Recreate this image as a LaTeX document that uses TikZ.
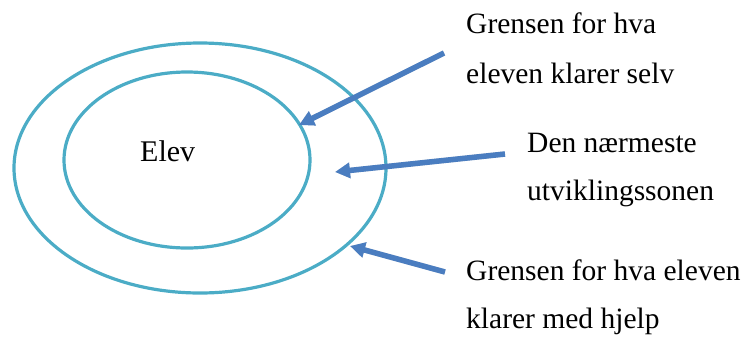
\documentclass[tikz,border=0pt]{standalone}
\usepackage{fontspec}
\setmainfont{Liberation Serif}
\usetikzlibrary{shapes.geometric,arrows.meta}
\definecolor{ringc}{HTML}{4BACC6}
\definecolor{arrc}{HTML}{4A7DC0}
\begin{document}
\begin{tikzpicture}[x=1pt,y=-1pt,
  ring/.style={draw=ringc, line width=3.2pt, ellipse, inner sep=0pt},
  lbl/.style={anchor=base west, inner sep=0pt, font=\fontsize{29.5}{35}\selectfont},
  pointer/.style={draw=arrc, line width=5.5pt, -{Triangle[length=15pt,width=15pt]}},
  pshadow/.style={draw=black, opacity=0.12, line width=5.5pt, -{Triangle[length=15pt,width=15pt]}}
]
\useasboundingbox (0,0) rectangle (752,338);
% rings
\node[ring, minimum width=372pt, minimum height=250pt] (outer) at (200,168) {};
\node[ring, minimum width=246pt, minimum height=176pt] (inner) at (187,160) {};
\node[lbl, font=\fontsize{30}{35}\selectfont] (elev) at (140,161.7) {Elev};
% labels
\node[lbl] (t1a) at (466,33) {Grensen for hva};
\node[lbl] (t1b) at (466,83) {eleven klarer selv};
\node[lbl] (t2a) at (527,152) {Den nærmeste};
\node[lbl] (t2b) at (527,200) {utviklingssonen};
\node[lbl] (t3a) at (466,280) {Grensen for hva eleven};
\node[lbl] (t3b) at (466,328) {klarer med hjelp};
% arrow ends
\coordinate (s1) at (444,53);
\coordinate (e1) at (299,125);
\coordinate (s2) at (505,154);
\coordinate (e2) at (335,172);
\coordinate (s3) at (445,272);
\coordinate (e3) at (350,246);
% shadows
\begin{scope}[shift={(2,2.5)}]
\draw[pshadow] (s1) -- (e1);
\draw[pshadow] (s2) -- (e2);
\draw[pshadow] (s3) -- (e3);
\end{scope}
% arrows
\draw[pointer] (s1) -- (e1);
\draw[pointer] (s2) -- (e2);
\draw[pointer] (s3) -- (e3);
\end{tikzpicture}
\end{document}
